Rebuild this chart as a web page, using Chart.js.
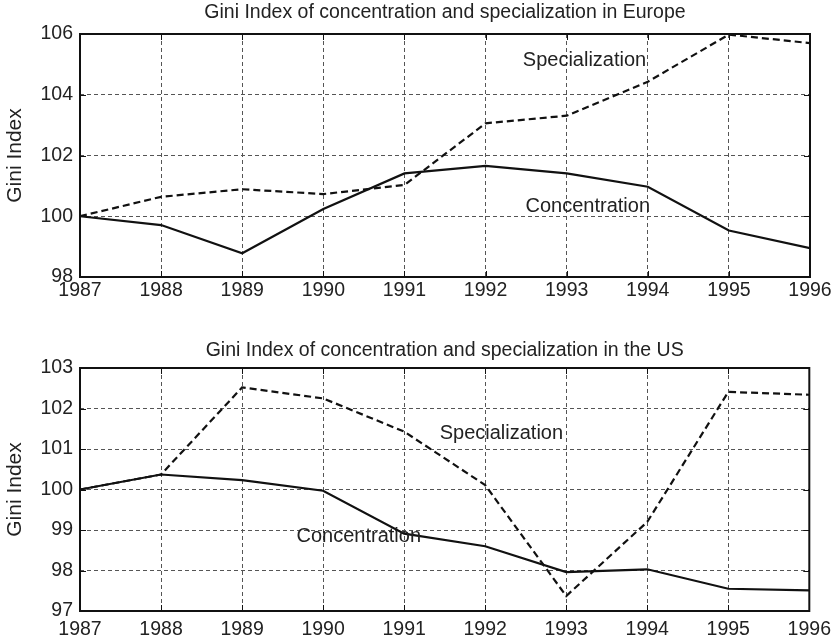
<!DOCTYPE html>
<html>
<head>
<meta charset="utf-8">
<script src="https://cdn.jsdelivr.net/npm/chart.js@4.4.1/dist/chart.umd.min.js"></script>
<style>
    html, body { margin: 0; padding: 0; background: #fff; }
    #wrap { position: relative; width: 838px; height: 638px; }
    .box { position: absolute; left: 0; width: 838px; }
</style>
</head>
<body>
<div id="wrap">
    <div class="box" style="top:0;height:320px"><canvas id="europe-chart"></canvas></div>
    <div class="box" style="top:320px;height:318px"><canvas id="us-chart"></canvas></div>
</div>
<script>
// Data
const years = [1987, 1988, 1989, 1990, 1991, 1992, 1993, 1994, 1995, 1996];

const europeConcentration = [100, 99.71, 98.78, 100.24, 101.41, 101.66, 101.41, 100.97, 99.53, 98.95];
const europeSpecialization = [100, 100.64, 100.89, 100.73, 101.03, 103.06, 103.31, 104.43, 105.98, 105.7];

const usConcentration = [100, 100.37, 100.23, 99.97, 98.91, 98.6, 97.96, 98.03, 97.55, 97.51];
const usSpecialization = [100, 100.37, 102.52, 102.25, 101.43, 100.11, 97.37, 99.2, 102.41, 102.34];

const europeTicks = [98, 100, 102, 104, 106];
const usTicks = [97, 98, 99, 100, 101, 102, 103];

const europeTitle = 'Gini Index of concentration and specialization in Europe';
const usTitle = 'Gini Index of concentration and specialization in the US';

// in-plot labels, placed in data units
const europeNotes = [
    { text: 'Specialization', x: 1993.22, y: 105.12 },
    { text: 'Concentration', x: 1993.26, y: 100.32 }
];
const usNotes = [
    { text: 'Specialization', x: 1992.2, y: 101.38 },
    { text: 'Concentration', x: 1990.44, y: 98.85 }
];

Chart.defaults.font.family = "'Liberation Sans', Arial, Helvetica, sans-serif";
Chart.defaults.color = '#222';

// frame, inward ticks, title and text labels
const decorPlugin = {
    id: 'decor',
    afterDatasetsDraw(chart, args, opts) {
        const { ctx, chartArea: a, scales } = chart;
        ctx.save();
        ctx.strokeStyle = '#111';
        ctx.setLineDash([]);

        // small MATLAB-style ticks pointing inwards
        ctx.lineWidth = 1;
        ctx.beginPath();
        scales.x.ticks.forEach(t => {
            const px = Math.round(scales.x.getPixelForValue(t.value)) + 0.5;
            ctx.moveTo(px, a.bottom); ctx.lineTo(px, a.bottom - 6);
            ctx.moveTo(px, a.top); ctx.lineTo(px, a.top + 6);
        });
        scales.y.ticks.forEach(t => {
            const py = Math.round(scales.y.getPixelForValue(t.value)) + 0.5;
            ctx.moveTo(a.left, py); ctx.lineTo(a.left + 6, py);
            ctx.moveTo(a.right, py); ctx.lineTo(a.right - 6, py);
        });
        ctx.stroke();

        ctx.lineWidth = 2;
        ctx.strokeRect(a.left, a.top, a.right - a.left, a.bottom - a.top);

        ctx.fillStyle = '#222';
        ctx.textAlign = 'center';
        ctx.textBaseline = 'middle';
        ctx.font = "19.5px 'Liberation Sans', Arial, sans-serif";
        ctx.fillText(opts.title, (a.left + a.right) / 2, a.top - opts.titleGap);

        ctx.font = "20px 'Liberation Sans', Arial, sans-serif";
        opts.notes.forEach(n => {
            ctx.fillText(n.text, scales.x.getPixelForValue(n.x), scales.y.getPixelForValue(n.y));
        });
        ctx.restore();
    }
};

function renderGiniChart(canvasId, conc, spec, ticks, title, notes, box) {
    const ctx = document.getElementById(canvasId);
    if (!ctx) return;

    return new Chart(ctx, {
        type: 'line',
        data: {
            datasets: [
                {
                    label: 'Concentration',
                    data: years.map((yr, i) => ({ x: yr, y: conc[i] })),
                    borderColor: '#111',
                    borderWidth: 2.2,
                    pointRadius: 0,
                    tension: 0,
                    fill: false
                },
                {
                    label: 'Specialization',
                    data: years.map((yr, i) => ({ x: yr, y: spec[i] })),
                    borderColor: '#111',
                    borderWidth: 2.2,
                    borderDash: [7, 4],
                    pointRadius: 0,
                    tension: 0,
                    fill: false
                }
            ]
        },
        options: {
            responsive: true,
            maintainAspectRatio: false,
            animation: false,
            layout: {
                padding: { left: 0, right: 28, top: box.top, bottom: 0 }
            },
            plugins: {
                legend: { display: false },
                tooltip: { enabled: false },
                decor: { title: title, notes: notes, titleGap: box.titleGap }
            },
            scales: {
                x: {
                    type: 'linear',
                    min: years[0],
                    max: years[years.length - 1],
                    afterBuildTicks: function (scale) {
                        scale.ticks = years.map(v => ({ value: v }));
                    },
                    afterFit: function (scale) {
                        scale.height = box.xHeight;
                    },
                    grid: {
                        color: '#555',
                        lineWidth: 1,
                        drawTicks: false
                    },
                    border: { display: false, dash: [4, 3] },
                    ticks: {
                        padding: box.xPad,
                        maxRotation: 0,
                        autoSkip: false,
                        color: '#222',
                        font: { size: 19.5 },
                        callback: function (value) {
                            return String(value);
                        }
                    }
                },
                y: {
                    min: ticks[0],
                    max: ticks[ticks.length - 1],
                    afterBuildTicks: function (scale) {
                        scale.ticks = ticks.map(v => ({ value: v }));
                    },
                    afterFit: function (scale) {
                        scale.width = 80;
                    },
                    grid: {
                        color: '#555',
                        lineWidth: 1,
                        drawTicks: false
                    },
                    border: { display: false, dash: [4, 3] },
                    title: {
                        display: true,
                        text: 'Gini Index',
                        color: '#222',
                        font: { size: 21 },
                        padding: { top: 3, bottom: 0 }
                    },
                    ticks: {
                        padding: 7,
                        color: '#222',
                        font: { size: 19.5 },
                        callback: function (value) {
                            return String(value);
                        }
                    }
                }
            }
        },
        plugins: [decorPlugin]
    });
}

renderGiniChart('europe-chart', europeConcentration, europeSpecialization, europeTicks,
    europeTitle, europeNotes, { top: 34, xHeight: 43, xPad: 2, titleGap: 21 });
renderGiniChart('us-chart', usConcentration, usSpecialization, usTicks,
    usTitle, usNotes, { top: 48, xHeight: 27, xPad: 7, titleGap: 17 });
</script>
</body>
</html>
